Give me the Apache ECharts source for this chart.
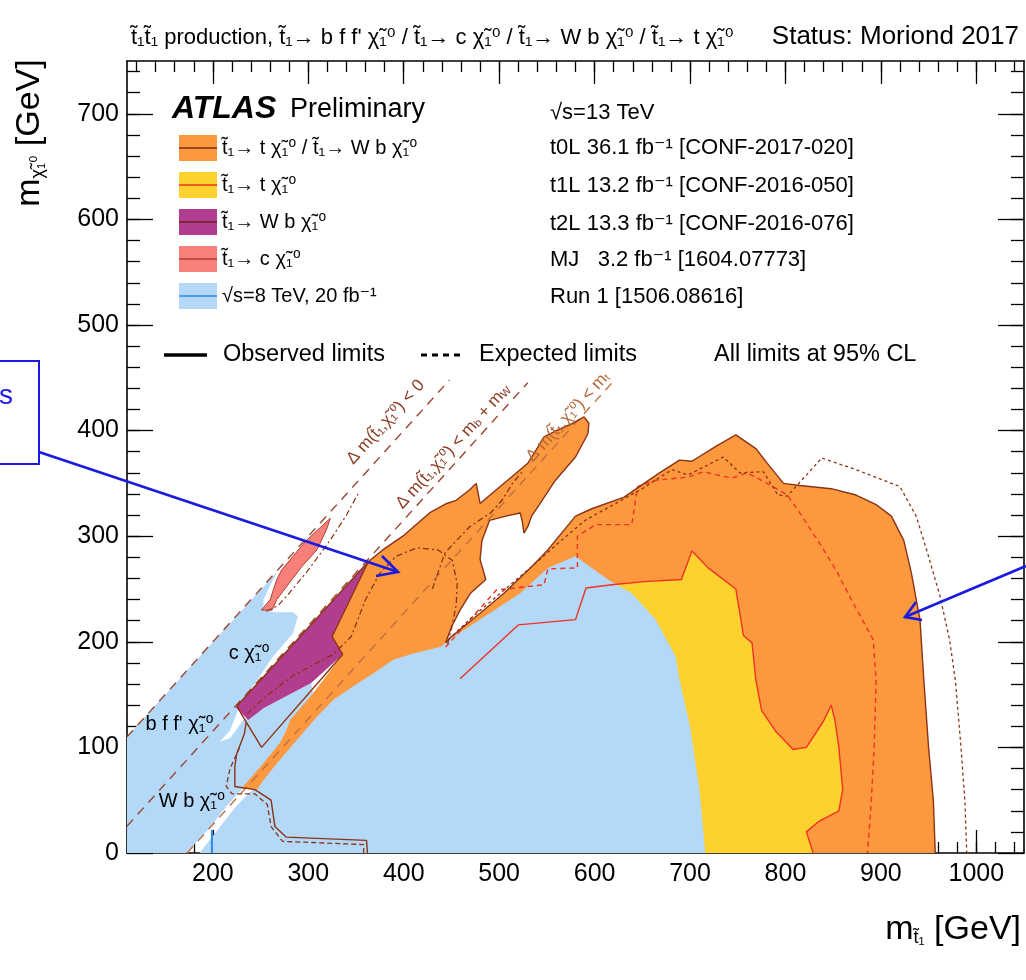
<!DOCTYPE html>
<html><head><meta charset="utf-8">
<script src="https://cdn.jsdelivr.net/npm/echarts@6/dist/echarts.min.js"></script>
<style>html,body{margin:0;padding:0;background:#fff}#c{width:1026px;height:980px}</style>
</head><body><div id="c"></div>
<script>
// ---------------- axis ranges & ticks ----------------
const X_MIN = 110, X_MAX = 1050, Y_MIN = 0, Y_MAX = 750;
const xMajorTicks = [200,300,400,500,600,700,800,900,1000];
const xMinorTicks = [120,140,160,180,200,220,240,260,280,300,320,340,360,380,400,420,440,460,480,500,520,540,560,580,600,620,640,660,680,700,720,740,760,780,800,820,840,860,880,900,920,940,960,980,1000,1020,1040];
const yMajorTicks = [0,100,200,300,400,500,600,700];
const yMinorTicks = [20,40,60,80,100,120,140,160,180,200,220,240,260,280,300,320,340,360,380,400,420,440,460,480,500,520,540,560,580,600,620,640,660,680,700,720,740];

// ---------------- data (m_stop, m_neutralino) in GeV ----------------
const runOneLeft = [[110,0],[172,0],[195,22],[215,45],[232,62],[256,85],[275,108],[285,125],[305,152],[303,161],[253,137],[232,126],[218,109],[207,105],[218,116],[225,132],[228,142],[242,158],[263,186],[284,208],[289,224],[284,228],[265,228],[253,230],[253,240],[263,259],[267,266],[110,110]];
const runOneRight = [[186,0],[205,22],[225,45],[246,64],[255,74],[269,90],[290,111],[311,133],[328,149],[349,162],[370,174],[391,186],[412,192],[440,198],[446,201],[480,221],[522,246],[551,270],[580,281],[614,259],[639,246],[664,221],[685,186],[689,164],[700,120],[710,60],[716,0]];
const runOneObs = [[199,0],[199,22]];

const t0LArmEdge = [[363,276],[378,287],[399,300],[427,322],[445,331],[455,334],[469,344],[476,350],[480,331],[497,344],[513,356],[530,369],[541,385],[547,394],[560,400],[575,406],[589,413],[594,407],[593,397],[580,375],[559,353],[543,331],[534,319],[530,309],[526,303],[524,315],[522,322],[507,319],[490,315],[482,296],[480,278],[486,259],[470,246],[459,230],[450,214],[444,199]];
const t0LArmLower = [[438,195],[410,189],[389,183],[368,170],[347,158],[326,145],[309,129],[288,107],[267,85],[253,69],[246,60],[230,61],[253,85],[270,104],[277,116],[281,126],[302,148],[309,156],[336,188],[325,205]];
const t0LBlobEdge = [[444,199],[450,205],[480,227],[505,246],[534,271],[551,287],[580,319],[597,326],[631,337],[647,347],[668,360],[689,372],[702,371],[727,385],[748,396],[769,383],[781,369],[798,350],[815,348],[848,345],[874,339],[895,330],[911,319],[924,296],[932,265],[941,221],[945,164],[950,100],[955,50],[957,0]];
const t0LBlobClose = [[500,0],[440,180]];
const t0LExp = [[447,202],[470,222],[500,245],[530,268],[560,292],[590,315],[620,330],[650,345],[681,363],[698,358],[735,375],[752,360],[777,361],[792,339],[802,338],[811,347],[838,374],[874,363],[920,347],[937,319],[949,284],[962,243],[972,202],[978,164],[984,100],[988,50],[990,0]];
const t0LExpComp = [[430,250],[443,284],[469,309],[491,322],[503,334],[514,350],[525,362]];

const t1LObs = [[459,165],[520,216],[580,221],[591,251],[618,254],[652,257],[691,259],[702,286],[719,270],[748,250],[756,206],[765,199],[769,164],[775,135],[790,115],[808,98],[822,100],[840,125],[848,140],[852,125],[856,100],[860,60],[856,40],[835,30],[822,20],[829,0]];
const t1LClose = [[459,0]];
const t1LExp = [[444,195],[497,249],[547,254],[551,269],[582,270],[582,300],[601,311],[639,311],[645,347],[664,353],[698,356],[714,361],[744,355],[760,360],[781,350],[802,339],[815,322],[836,293],[853,268],[869,240],[892,202],[895,164],[893,100],[890,50],[886,0]];

const t2LFill = [[224,138],[363,276],[325,205],[336,188],[303,161],[253,137],[237,126]];
const t2LObs = [[225,139],[363,276],[325,205],[336,188],[251,100],[235,124],[225,139]];
const t2LTail = [[235,124],[233,113],[225,94],[223,82],[223,63],[244,60],[261,50],[265,25],[277,15],[361,12],[362,0]];
const t2LExp = [[236,132],[255,148],[284,168],[326,188],[345,205],[360,240],[375,265],[392,281],[414,289],[436,287],[451,277],[456,255],[455,235],[450,212],[446,198]];
const t2LExpTail = [[228,100],[218,80],[214,63],[220,56],[244,56],[257,46],[261,25],[273,11],[358,8],[358,0]];

const mjFill = [[251,230],[260,240],[267,259],[272,268],[284,281],[298,296],[323,317],[319,306],[309,287],[293,271],[277,252],[267,240],[262,230]];
const mjExp = [[256,229],[268,234],[280,246],[300,268],[322,295],[340,320],[352,340]];

const kinLineZero = [[110,110],[448,448]];
const kinLineBW = [[110,25.4],[530,445.4]];
const kinLineTop = [[173,0],[618,445]];

// text labels inside the plot: [x, y] in GeV
const regionLabels = [
  {t:'c χ̃₁⁰', at:[238,189]},
  {t:'b f f\' χ̃₁⁰', at:[165,122]},
  {t:'W b χ̃₁⁰', at:[178,49]}
];
const kinLabels = [
  {t:'Δ m(t̃₁,χ̃₁⁰) < 0', at:[381,408], c:'#8b3a22'},
  {t:'Δ m(t̃₁,χ̃₁⁰) < m{s|b} + m{s|W}', at:[452,385], c:'#8b3a22'},
  {t:'Δ m(t̃₁,χ̃₁⁰) < m{s|t}', at:[572,413], c:'#b5683a'}
];

// legend texts
const legendRows = [
  {t:'t̃₁→ t χ̃₁⁰ / t̃₁→ W b χ̃₁⁰', fill:'#fc983e', line:'#7a2c10'},
  {t:'t̃₁→ t χ̃₁⁰', fill:'#fdd12e', line:'#ee3324'},
  {t:'t̃₁→ W b χ̃₁⁰', fill:'#b23d8e', line:'#6b1f1a'},
  {t:'t̃₁→ c χ̃₁⁰', fill:'#f7807a', line:'#a8442e'},
  {t:'√s=8 TeV, 20 fb⁻¹', fill:'#b3d8f8', line:'#2d8ce6'}
];
const infoRows = ['√s=13 TeV','t0L 36.1 fb⁻¹ [CONF-2017-020]','t1L 13.2 fb⁻¹ [CONF-2016-050]','t2L 13.3 fb⁻¹ [CONF-2016-076]','MJ   3.2 fb⁻¹ [1604.07773]','Run 1 [1506.08616]'];

// ---------------- styles ----------------
const FONT = '"Liberation Sans","DejaVu Sans",Arial,sans-serif';
const C = {orange:'#fc983e', yellow:'#fdd12e', blue:'#b3d8f8', purple:'#b23d8e', pink:'#f7807a',
  brown:'#8b3315', red:'#ee3324', kin1:'#9a4630', kin3:'#c07040', annot:'#1a1ae0'};

function poly(name, pts, fill, z){
  return {type:'custom', name, coordinateSystem:'cartesian2d', xAxisIndex:0, yAxisIndex:0, z, silent:true,
    data:[pts[0]], renderItem:(p, api)=>({type:'polygon', shape:{points:pts.map(q=>api.coord(q))}, style:{fill:fill}})};
}
function line(name, pts, color, width, type, z){
  return {type:'line', name, xAxisIndex:0, yAxisIndex:0, data:pts, showSymbol:false, symbol:'none', z, silent:true,
    lineStyle:{color, width, type}, emphasis:{disabled:true}};
}
function xAx(pos, major){
  return {type:'value', min:X_MIN, max:X_MAX, position:pos, splitLine:{show:false},
    axisLine:{show:major, onZero:false, lineStyle:{color:'#000', width:1.6}},
    axisTick:{show:true, inside:true, length:major?23:11, customValues:major?xMajorTicks:xMinorTicks, lineStyle:{color:'#000', width:1.3}},
    axisLabel:{show:major && pos==='bottom', customValues:xMajorTicks, margin:9, fontSize:25, color:'#000', fontFamily:FONT,
      formatter:v=>String(v)}};
}
function yAx(pos, major){
  return {type:'value', min:Y_MIN, max:Y_MAX, position:pos, splitLine:{show:false},
    axisLine:{show:major, onZero:false, lineStyle:{color:'#000', width:1.6}},
    axisTick:{show:true, inside:true, length:major?26:13, customValues:major?yMajorTicks:yMinorTicks, lineStyle:{color:'#000', width:1.3}},
    axisLabel:{show:major && pos==='left', customValues:yMajorTicks, margin:8, fontSize:25, color:'#000', fontFamily:FONT,
      formatter:v=>String(v)}};
}

const chart = echarts.init(document.getElementById('c'), null, {renderer:'canvas'});
chart.setOption({
  animation:false,
  backgroundColor:'#fff',
  grid:{left:127, top:61, width:897, height:792, containLabel:false},
  xAxis:[xAx('bottom',true), xAx('bottom',false), xAx('top',true), xAx('top',false)],
  yAxis:[yAx('left',true), yAx('left',false), yAx('right',true), yAx('right',false)],
  series:[
    poly('t0L blob', t0LBlobEdge.concat(t0LBlobClose), C.orange, 1),
    poly('t1L', t1LObs.concat(t1LClose), C.yellow, 2),
    poly('Run1 left', runOneLeft, C.blue, 3),
    poly('Run1 right', runOneRight, C.blue, 3),
    poly('t2L', t2LFill, C.purple, 4),
    poly('t0L arm', t0LArmEdge.concat(t0LArmLower), C.orange, 5),
    poly('MJ', mjFill, C.pink, 5),
    line('kin0', kinLineZero, C.kin1, 1.4, [9,7], 8),
    line('kinBW', kinLineBW, C.kin1, 1.4, [9,7], 8),
    line('kinT', kinLineTop, C.kin3, 1.4, [9,7], 8),
    line('run1 obs', runOneObs, '#2d8ce6', 2, 'solid', 9),
    line('t1L obs', t1LObs, C.red, 1.4, 'solid', 10),
    line('t1L exp', t1LExp, C.red, 1.4, [5,4], 10),
    line('t0L exp', t0LExp, C.brown, 1.3, [3,3], 10),
    line('t0L exp comp', t0LExpComp, C.brown, 1.3, [6,3,2,3], 10),
    line('t2L exp', t2LExp, C.brown, 1.3, [6,3,2,3], 10),
    line('t2L exp tail', t2LExpTail, C.brown, 1.3, [5,3], 10),
    line('mj exp', mjExp, C.brown, 1.2, [6,3,2,3], 10),
    line('mj obs', mjFill.concat([mjFill[0]]), '#a8442e', 1, 'solid', 10),
    line('t2L obs', t2LObs, C.brown, 1.4, 'solid', 11),
    line('t2L tail', t2LTail, C.brown, 1.4, 'solid', 11),
    line('t0L arm obs', t0LArmEdge, C.brown, 1.4, 'solid', 11),
    line('t0L blob obs', t0LBlobEdge, C.brown, 1.4, 'solid', 11)
  ]
});

// ---------------- graphics (texts, legend, annotations) ----------------
const px = p => chart.convertToPixel({xAxisIndex:0, yAxisIndex:0}, p);
const G = [];
function txt(x, y, text, size, opts){
  opts = opts || {};
  G.push({type:'text', x, y, rotation:opts.rot||0, z:100, silent:true,
    style:Object.assign({text, fill:opts.color||'#000', fontSize:size, fontFamily:FONT,
      fontWeight:opts.weight||'normal', fontStyle:opts.style||'normal',
      align:opts.align||'left', textAlign:opts.align||'left', verticalAlign:'middle', textVerticalAlign:'middle'}, opts.rich?{rich:opts.rich}:{})});
}
// title
txt(131, 38, 't̃₁t̃₁ production, t̃₁→ b f f\' χ̃₁⁰ / t̃₁→ c χ̃₁⁰ / t̃₁→ W b χ̃₁⁰ / t̃₁→ t χ̃₁⁰', 22);
txt(1019, 37, 'Status: Moriond 2017', 26, {align:'right'});
// ATLAS Preliminary
txt(172, 109, 'ATLAS', 32, {weight:'bold', style:'italic'});
txt(290, 110, 'Preliminary', 27);
// legend rows
const rowY = [148,185,222,259,296];
legendRows.forEach((r,i)=>{
  G.push({type:'rect', shape:{x:179, y:rowY[i]-13, width:38, height:26}, style:{fill:r.fill}, z:99, silent:true});
  G.push({type:'line', shape:{x1:179, y1:rowY[i], x2:217, y2:rowY[i]}, style:{stroke:r.line, lineWidth:1.6}, z:100, silent:true});
  txt(222, rowY[i], r.t, 20);
});
const infoY = [113,148,186,224,260,297];
infoRows.forEach((t,i)=>txt(550, infoY[i], t, 22));
// observed / expected
G.push({type:'line', shape:{x1:164, y1:355, x2:207, y2:355}, style:{stroke:'#000', lineWidth:3.5}, z:100, silent:true});
txt(223, 355, 'Observed limits', 23.5);
G.push({type:'line', shape:{x1:421, y1:355, x2:462, y2:355}, style:{stroke:'#000', lineWidth:3, lineDash:[6,5]}, z:100, silent:true});
txt(479, 355, 'Expected limits', 23.5);
txt(714, 355, 'All limits at 95% CL', 23.5);
// axis titles
txt(28, 133, '{m|m}{s|χ̃₁⁰} {m|[GeV]}', 34, {rot:Math.PI/2, align:'center',
  rich:{m:{fontSize:34, fontFamily:FONT, verticalAlign:'bottom', lineHeight:38}, s:{fontSize:18, fontFamily:FONT, verticalAlign:'bottom', lineHeight:22}}});
txt(1021, 928, '{m|m}{s|t̃₁} {m|[GeV]}', 34, {align:'right',
  rich:{m:{fontSize:34, fontFamily:FONT, verticalAlign:'bottom', lineHeight:38}, s:{fontSize:18, fontFamily:FONT, verticalAlign:'bottom', lineHeight:22}}});
// region labels
regionLabels.forEach(l=>{const p=px(l.at); txt(p[0], p[1], l.t, 20, {align:'center'});});
// kinematic labels
kinLabels.forEach(l=>{
  const p = px(l.at), p2 = px([l.at[0]+100, l.at[1]+100]);
  const a = Math.atan2(p[1]-p2[1], p2[0]-p[0]);
  txt(p[0], p[1], l.t, 17, {align:'center', rot:a, color:l.c,
    rich:{s:{fontSize:11, fontFamily:FONT, fill:l.c, verticalAlign:'bottom', lineHeight:14}}});
});
// slide annotations (blue box and arrows)
G.push({type:'rect', shape:{x:-2, y:361, width:41, height:103}, style:{fill:'none', stroke:C.annot, lineWidth:2}, z:120, silent:true});
txt(6, 396, 's', 28, {align:'center', color:C.annot});
G.push({type:'polyline', shape:{points:[[39,452],[398,572]]}, style:{stroke:C.annot, lineWidth:2.6, fill:'none'}, z:120, silent:true});
G.push({type:'polyline', shape:{points:[[382,556],[398,572],[376,576]]}, style:{stroke:C.annot, lineWidth:2.6, fill:'none'}, z:120, silent:true});
G.push({type:'polyline', shape:{points:[[1026,566],[905,617]]}, style:{stroke:C.annot, lineWidth:2.6, fill:'none'}, z:120, silent:true});
G.push({type:'polyline', shape:{points:[[916,602],[905,617],[922,620]]}, style:{stroke:C.annot, lineWidth:2.6, fill:'none'}, z:120, silent:true});

chart.setOption({graphic:{elements:G}});
</script></body></html>
